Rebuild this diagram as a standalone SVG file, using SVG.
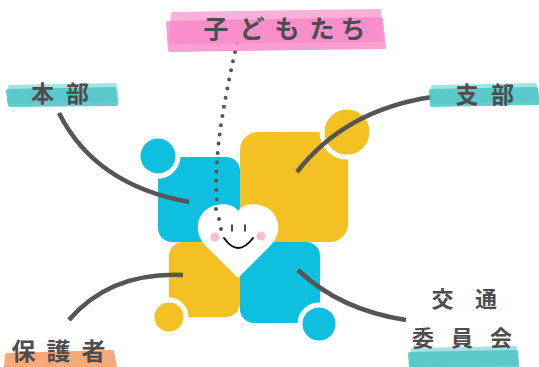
<svg xmlns="http://www.w3.org/2000/svg" width="539" height="367" viewBox="0 0 539 367">
  <style>
    .label { font-family: "Noto Sans CJK JP", "Noto Sans", sans-serif; font-weight: 700; fill: #4d4d4d; text-anchor: middle; }
    .link { fill: none; stroke: #555555; stroke-width: 4.5; stroke-linecap: butt; }
    .dots { fill: none; stroke: #555555; stroke-width: 4; stroke-linecap: round; stroke-dasharray: 0 9.3; }
    .blue { fill: #0ebfdf; }
    .yellow { fill: #f4c124; }
    .ring { stroke: #ffffff; stroke-width: 5; }
    .brush { stroke-width: 4; stroke-linejoin: round; }
    .teal-a { fill: #4cc5c6; stroke: #4cc5c6; opacity: 0.85; }
    .teal-b { fill: #80d6d6; stroke: #80d6d6; opacity: 0.7; }
    .pink-a { fill: #fba3d6; stroke: #fba3d6; opacity: 0.85; }
    .pink-b { fill: #f888c7; stroke: #f888c7; opacity: 0.8; }
    .orange-a { fill: #f7a06a; stroke: #f7a06a; opacity: 0.9; }
  </style>

  <rect width="539" height="367" fill="#ffffff"/>

  <!-- central emblem: four tiles with corner circles -->
  <g id="emblem">
    <rect class="blue" x="158" y="157" width="82" height="85" rx="14"/>
    <rect class="yellow" x="240" y="132" width="108" height="110" rx="18"/>
    <rect class="yellow" x="169" y="242" width="71" height="75" rx="14"/>
    <rect class="blue" x="240" y="242" width="80" height="81" rx="14"/>
    <circle class="blue ring" cx="158" cy="156" r="20"/>
    <circle class="yellow ring" cx="347" cy="132" r="25"/>
    <circle class="yellow ring" cx="169" cy="317" r="17"/>
    <circle class="blue ring" cx="319" cy="324" r="19"/>
  </g>

  <!-- connectors -->
  <g id="connectors">
    <path class="dots" d="M237,43 C222,110 208,180 222,232"/>
    <path class="link" d="M59,113 Q95,185 189,202"/>
    <path class="link" d="M297,172 Q345,110 432,97"/>
    <path class="link" d="M69,320 Q110,272 183,275"/>
    <path class="link" d="M298,270 Q340,310 406,320"/>
  </g>

  <!-- smiling heart in the middle -->
  <g id="heart">
    <path fill="#ffffff" d="M238,278 L205,245 C193,232 196,212 213,206 C225,202 234,205 238,211 C242,205 251,202 263,206 C280,212 283,232 271,245 Z"/>
    <circle cx="216" cy="209" r="2" fill="#555555"/>
    <circle cx="219" cy="219" r="2" fill="#555555"/>
    <circle cx="221" cy="229" r="2" fill="#555555"/>
    <path d="M232,225 V231 M245,225 V231" stroke="#222222" stroke-width="1.6" stroke-linecap="round" fill="none"/>
    <path d="M224,238 Q238,258 253,238" stroke="#111111" stroke-width="2" stroke-linecap="round" fill="none"/>
    <circle cx="215" cy="237" r="4.5" fill="#f9bcd8"/>
    <circle cx="261" cy="236" r="4.5" fill="#f9bcd8"/>
  </g>

  <g id="node-kodomotachi">
    <path class="brush pink-a" d="M173,14 L379,11 L382,40 L171,42 Z"/>
    <path class="brush pink-b" d="M168,23 L381,19 L384,47 L170,50 Z"/>
    <text class="label" font-size="25" y="38" x="216 252 287 322 353">子どもたち</text>
  </g>

  <g id="node-honbu">
    <path class="brush teal-b" d="M10,87 L115,85 L117,100 L9,102 Z"/>
    <path class="brush teal-a" d="M8,91 L114,89 L116,104 L10,105 Z"/>
    <text class="label" font-size="23" y="102" x="42.5 77.5">本部</text>
  </g>

  <g id="node-shibu">
    <path class="brush teal-b" d="M433,87 L535,85 L537,100 L432,102 Z"/>
    <path class="brush teal-a" d="M431,91 L536,89 L538,103 L432,105 Z"/>
    <text class="label" font-size="23" y="103" x="467 502.5">支部</text>
  </g>

  <g id="node-hogosha">
    <path class="brush orange-a" d="M7,355 L112,352 L115,367 L6,367 Z"/>
    <text class="label" font-size="24" y="360" x="23.5 58.5 93.5">保護者</text>
  </g>

  <g id="node-kotsu">
    <path class="brush teal-b" d="M413,350 L515,348 L517,363 L411,365 Z"/>
    <path class="brush teal-a" d="M410,354 L516,352 L517,367 L411,367 Z"/>
    <text class="label" font-size="22" y="307" x="442.5 486">交通</text>
    <text class="label" font-size="22" y="346" x="423 462 501">委員会</text>
  </g>
</svg>
